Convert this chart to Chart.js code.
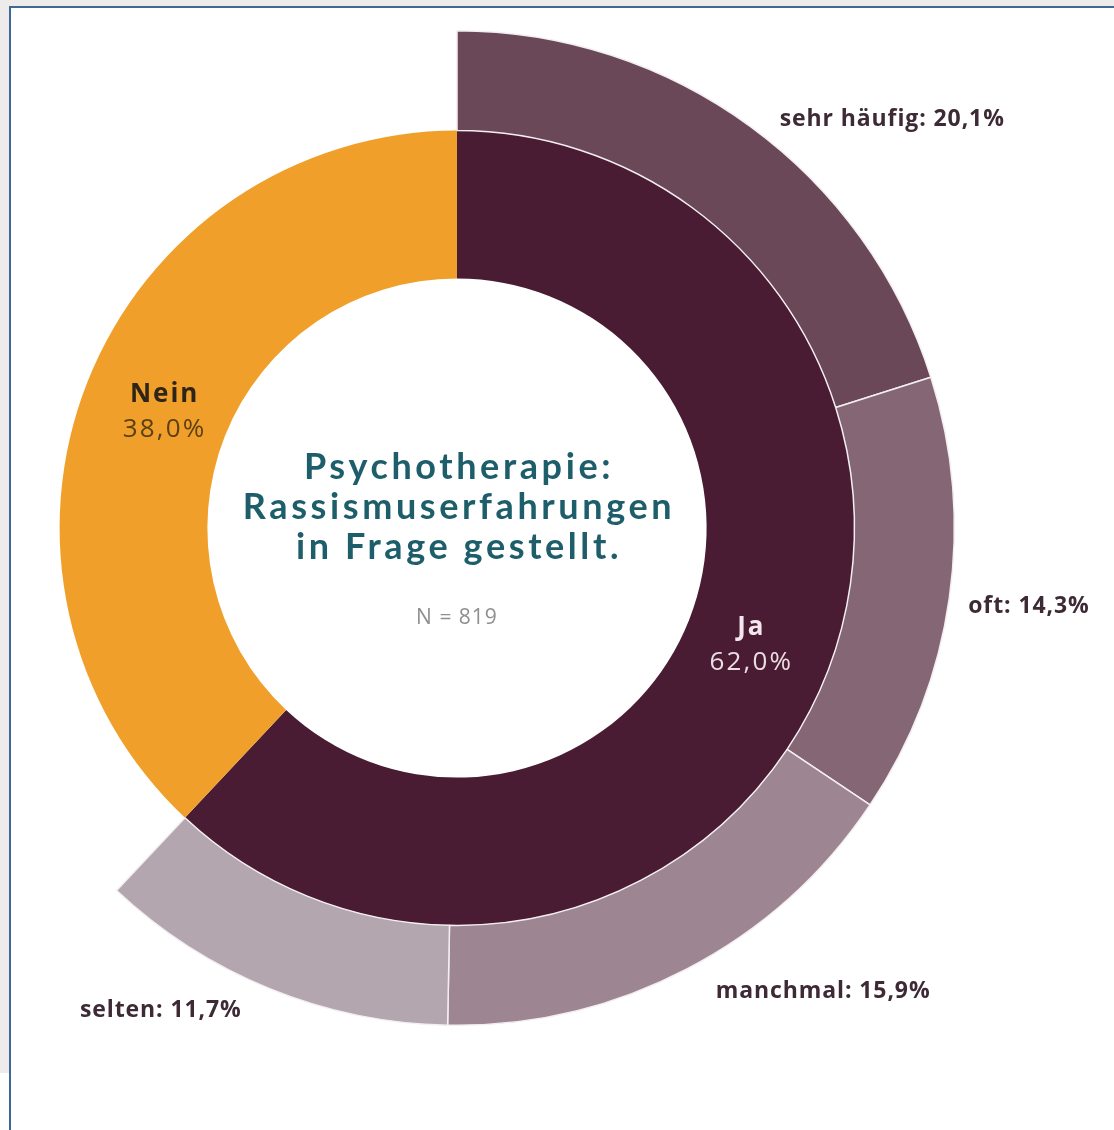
<!DOCTYPE html>
<html lang="de">
<head>
<meta charset="utf-8">
<title>Psychotherapie: Rassismuserfahrungen in Frage gestellt</title>
<script src="https://cdn.jsdelivr.net/npm/chart.js@4.4.1/dist/chart.umd.min.js"></script>
<style>
  html, body { margin: 0; padding: 0; }
  body {
    width: 1114px; height: 1130px; overflow: hidden;
    background: #edeceb; position: relative;
  }
  .panel {
    position: absolute; left: 9px; top: 6px; width: 1120px; height: 1140px;
    background: #ffffff; border: 2px solid #3f6898; box-sizing: border-box;
  }
  .corner { position: absolute; left: 0; top: 1073px; width: 9px; height: 60px; background: #fff; }
  .chart-box { position: absolute; left: -41px; top: 0; width: 1155px; height: 1130px; }
</style>
</head>
<body>
<div class="panel"></div>
<div class="corner"></div>
<div class="chart-box"><canvas id="donut"></canvas></div>

<script>
// Daten
const innerLabels = ['Ja', 'Nein'];
const innerValues = [62.0, 38.0];
const outerLabels = ['sehr häufig', 'oft', 'manchmal', 'selten'];
const outerValues = [20.1, 14.3, 15.9, 11.7];
const sampleSize = 819;

const titleLines = ['Psychotherapie:', 'Rassismuserfahrungen', 'in Frage gestellt.'];

const innerColors = ['#4a1c33', '#f0a02a'];
const outerColors = ['#6b4858', '#846675', '#9d8592', '#b3a6ae'];

// Zahl im deutschen Format
function fmt(v) {
    return v.toFixed(1).replace('.', ',') + '%';
}

// Feinjustierung der Außenbeschriftungen (Winkel in Grad, Abstand in px)
const outerLabelShift = [
    { deg: 10.6, dist: 100 },
    { deg: -0.3, dist: 80 },
    { deg: -10.8, dist: 93 },
    { deg: 9.4, dist: 69 }
];

const labelPlugin = {
    id: 'labelPlugin',
    afterDatasetsDraw(chart) {
        const ctx = chart.ctx;
        const outerMeta = chart.getDatasetMeta(0);
        const innerMeta = chart.getDatasetMeta(1);
        const first = innerMeta.data[0];
        const cx = first.x, cy = first.y;

        ctx.save();
        ctx.textAlign = 'center';
        ctx.textBaseline = 'middle';

        // Titel in der Mitte
        ctx.fillStyle = '#1e5e6b';
        ctx.font = 'bold 36px Lato';
        ctx.letterSpacing = '3.6px';
        const lineOffsets = [-61, -21, 19];
        titleLines.forEach((line, i) => {
            ctx.fillText(line, cx + 2, cy + lineOffsets[i]);
        });

        ctx.fillStyle = '#8f8f8f';
        ctx.font = '21px "Open Sans"';
        ctx.letterSpacing = '1px';
        ctx.fillText('N = ' + sampleSize, cx, cy + 90);

        // Innenring: Ja / Nein
        innerMeta.data.forEach((arc, i) => {
            const mid = (arc.startAngle + arc.endAngle) / 2;
            const r = (arc.innerRadius + arc.outerRadius) / 2 - 8;
            const x = cx + Math.cos(mid) * r;
            const y = cy + Math.sin(mid) * r;
            const isJa = i === 0;
            ctx.letterSpacing = '2px';
            ctx.fillStyle = isJa ? '#f3e6ec' : '#2e2418';
            ctx.font = 'bold 26px "Open Sans"';
            ctx.fillText(innerLabels[i], x + 1, y - 17);
            ctx.letterSpacing = '2.2px';
            ctx.fillStyle = isJa ? '#eadde3' : '#5c3f12';
            ctx.font = '26px "Open Sans"';
            ctx.fillText(fmt(innerValues[i]), x + 1, y + 18);
        });

        // Außenring: Häufigkeiten
        ctx.fillStyle = '#3d2a35';
        ctx.font = 'bold 23px "Open Sans"';
        ctx.letterSpacing = '0.9px';
        outerLabels.forEach((label, i) => {
            const arc = outerMeta.data[i];
            const mid = (arc.startAngle + arc.endAngle) / 2 + outerLabelShift[i].deg * Math.PI / 180;
            const r = arc.outerRadius + outerLabelShift[i].dist;
            const x = cx + Math.cos(mid) * r;
            const y = cy + Math.sin(mid) * r;
            ctx.fillText(label + ': ' + fmt(outerValues[i]), x, y);
        });
        ctx.restore();
    }
};

const neinRest = innerValues[1];

const ctx = document.getElementById('donut').getContext('2d');
const donutChart = new Chart(ctx, {
    type: 'doughnut',
    data: {
        labels: outerLabels.concat(['']),
        datasets: [{
            data: outerValues.concat([neinRest]),
            backgroundColor: outerColors.concat(['rgba(0,0,0,0)']),
            borderColor: '#f3eef1',
            borderWidth: [1.5, 1.5, 1.5, 1.5, 0],
            weight: 100
        }, {
            data: innerValues,
            backgroundColor: innerColors,
            borderWidth: 0,
            weight: 148
        }]
    },
    options: {
        responsive: true,
        maintainAspectRatio: false,
        animation: false,
        cutout: '50.2%',
        layout: { padding: { left: 0, top: 30, right: 159, bottom: 104 } },
        plugins: {
            legend: { display: false },
            tooltip: { enabled: false }
        }
    },
    plugins: [labelPlugin]
});
</script>
</body>
</html>
